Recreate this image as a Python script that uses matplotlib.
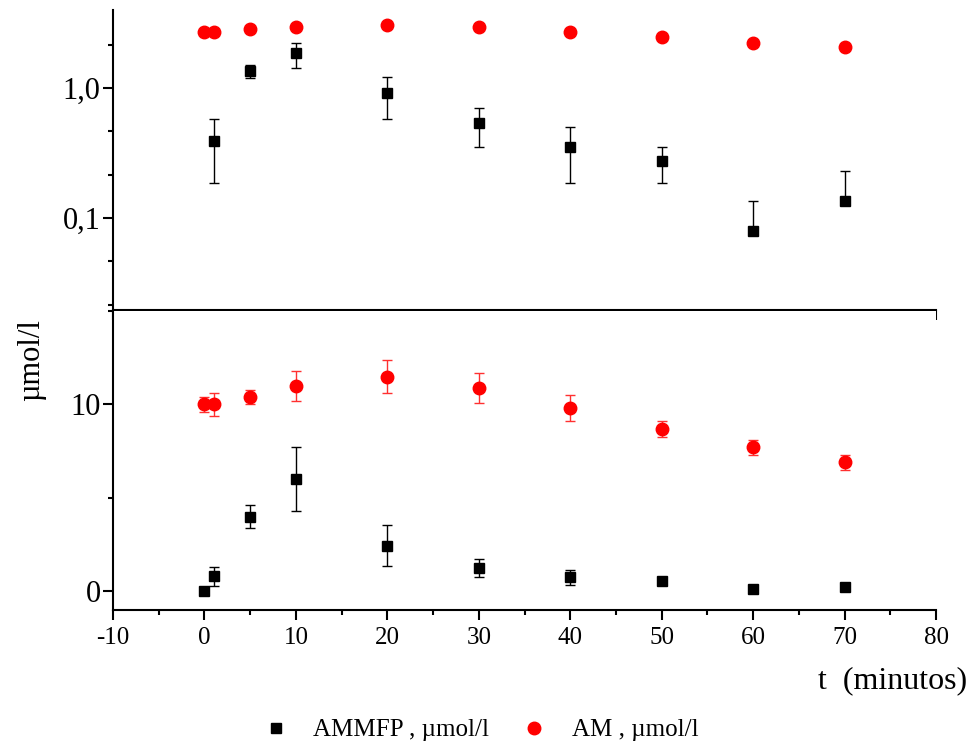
import numpy as np
import matplotlib
matplotlib.use("Agg")
import matplotlib.pyplot as plt
from matplotlib.lines import Line2D

plt.rcParams['font.family'] = ['Liberation Serif', 'DejaVu Serif']
plt.rcParams['axes.unicode_minus'] = False

# time points (minutes)
t = [0, 1, 5, 10, 20, 30, 40, 50, 60, 70]

# top panel (log scale)
am_top = [2.71, 2.71, 2.83, 2.96, 3.05, 2.93, 2.70, 2.45, 2.23, 2.06]
t_ammfp_top = [1, 5, 10, 20, 30, 40, 50, 60, 70]
ammfp_top = [0.39, 1.36, 1.85, 0.91, 0.54, 0.354, 0.273, 0.080, 0.135]
ammfp_top_hi = [0.574, 1.50, 2.23, 1.22, 0.698, 0.50, 0.354, 0.134, 0.230]
ammfp_top_lo = [0.185, 1.20, 1.43, 0.574, 0.354, 0.185, 0.185, 0.080, 0.135]

# bottom panel (linear)
am_bot = [10.0, 10.0, 10.39, 10.99, 11.49, 10.9, 9.80, 8.69, 7.70, 6.90]
am_bot_err = [0.4, 0.6, 0.39, 0.8, 0.89, 0.8, 0.7, 0.42, 0.4, 0.4]
ammfp_bot = [0.0, 0.81, 4.0, 6.01, 2.45, 1.24, 0.74, 0.53, 0.14, 0.25]
ammfp_bot_err = [0.0, 0.5, 0.6, 1.7, 1.1, 0.5, 0.4, 0.15, 0.1, 0.15]

fig = plt.figure(figsize=(9.7, 7.45), dpi=100)
ax1 = fig.add_axes([0.1165, 0.584, 0.8485, 0.4026])
ax2 = fig.add_axes([0.1165, 0.1812, 0.8485, 0.4014])

sq = dict(marker='s', ms=7.5, color='black', ls='none')
ci = dict(marker='o', ms=9, color='red', ls='none')

# top panel
ammfp_top = np.array(ammfp_top)
yerr_top = [ammfp_top - np.array(ammfp_top_lo), np.array(ammfp_top_hi) - ammfp_top]
ax1.errorbar(t_ammfp_top, ammfp_top, yerr=yerr_top, ecolor='black', elinewidth=1,
             capsize=3.6, capthick=1, zorder=3, **sq)
ax1.plot(t, am_top, zorder=3, **ci)
ax1.set_yscale('log')
ax1.set_ylim(0.0196, 3.98)
ax1.set_yticks([0.1, 1.0], ['0,1', '1,0'])
ax1.set_yticks([10 ** (k / 3) for k in [-5, -4, -2, -1, 1]], minor=True)
ax1.yaxis.set_minor_formatter(plt.NullFormatter())
ax1.spines['top'].set_visible(False)
ax1.spines['right'].set_visible(False)
ax1.tick_params(axis='x', labelbottom=False)

# bottom panel
ax2.errorbar(t, am_bot, yerr=am_bot_err, ecolor='#ff3030', elinewidth=1,
             capsize=3.6, capthick=1, zorder=3, **ci)
ax2.errorbar(t, ammfp_bot, yerr=ammfp_bot_err, ecolor='black', elinewidth=1,
             capsize=3.6, capthick=1, zorder=3, **sq)
ax2.set_ylim(-1, 15)
ax2.set_yticks([0, 10])
ax2.set_yticks([5, 15], minor=True)
ax2.spines['top'].set_visible(False)
ax2.spines['right'].set_visible(False)

for ax in (ax1, ax2):
    ax.set_xlim(-10, 80)
    ax.set_xticks(np.arange(-10, 81, 10))
    ax.set_xticks(np.arange(-5, 80, 10), minor=True)
    for s in ('left', 'bottom'):
        ax.spines[s].set_linewidth(1.5)
    ax.tick_params(which='major', direction='out', length=7, width=1.5)
    ax.tick_params(which='minor', direction='out', length=3.5, width=1.5)
    ax.tick_params(axis='y', labelsize=22, pad=2)
    ax.tick_params(axis='x', labelsize=18, pad=5)

fig.text(0.033, 1 - 360 / 745, 'µmol/l', rotation=90, ha='center', va='center', fontsize=22)
fig.text(967 / 970, 1 - 681 / 745, 't  (minutos)', ha='right', va='center', fontsize=23)

handles = [Line2D([], [], **sq), Line2D([], [], **ci)]
fig.legend(handles, ['AMMFP , µmol/l', 'AM , µmol/l'], loc='center',
           bbox_to_anchor=(0.493, 0.02), ncol=2, frameon=False, fontsize=18,
           handlelength=1.4, handletextpad=0.8, columnspacing=1.1)

fig.savefig('out.png', dpi=100)
